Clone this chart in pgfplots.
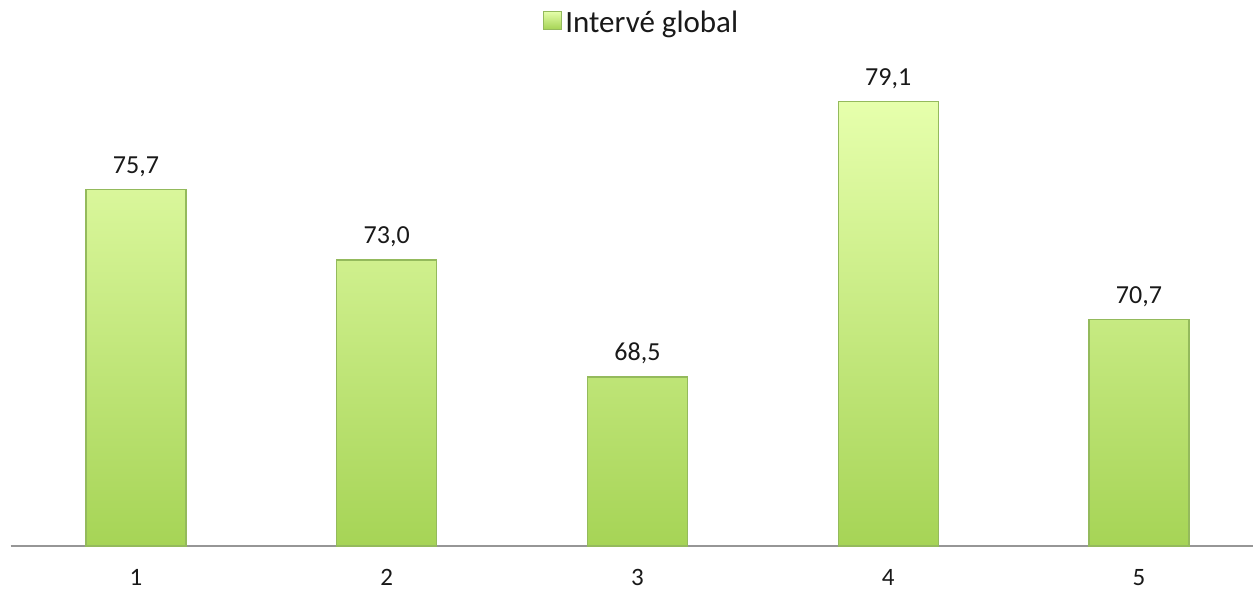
\documentclass[border=0pt]{standalone}
\usepackage{fontspec}
\setmainfont{Carlito}
\usepackage{pgfplots}
\pgfplotsset{compat=1.18}

\definecolor{bartop}{RGB}{230,255,172}
\definecolor{barmid}{RGB}{206,240,134}
\definecolor{barbot}{RGB}{166,212,86}
\definecolor{baredge}{RGB}{148,186,92}
\definecolor{axisgray}{RGB}{150,150,150}
\definecolor{labelgray}{RGB}{25,25,25}

\begin{document}
\begin{tikzpicture}
% fixed frame of the figure; the axis runs on past the right edge
\useasboundingbox (-5.3pt,-23.5pt) rectangle (621.2pt,273pt);
\begin{axis}[
  at={(0,0)}, anchor=south west,
  scale only axis,
  width=626.875pt, height=234pt,
  xmin=0.5, xmax=5.5,
  ymin=62, ymax=80,
  ybar, bar width=50pt,
  xtick={1,2,3,4,5},
  xticklabels={1,2,3,4,5},
  major tick length=0pt,
  ytick=\empty,
  axis x line*=bottom,
  axis y line=none,
  x axis line style={draw=axisgray, line width=0.9pt},
  tick label style={font=\fontsize{12.5}{14}\selectfont, text=labelgray},
  xticklabel style={anchor=base, inner sep=0pt, yshift=-20pt},
  nodes near coords,
  every node near coord/.append style={font=\fontsize{13}{15}\selectfont,
    text=labelgray, anchor=base, yshift=8pt},
  /pgf/number format/.cd, use comma, fixed, fixed zerofill, precision=1, assume math mode=true,
  /pgfplots/.cd,
  legend style={at={(0.504,1.1175)}, anchor=center, draw=none, fill=none,
    font=\fontsize{15.5}{17}\selectfont, text=labelgray,
    /tikz/every even column/.append style={column sep=1pt}},
  legend image code/.code={%
    \draw[draw=baredge, top color=bartop, bottom color=barbot, line width=0.3pt]
      (0pt,-3pt) rectangle (9pt,6pt);},
  clip=false,
]
\addplot[draw=baredge, line width=0.6pt,
  top color=bartop, middle color=barmid, bottom color=barbot]
  coordinates {(1,75.7) (2,73.0) (3,68.5) (4,79.1) (5,70.7)};
\addlegendentry{Intervé global}
\end{axis}
\end{tikzpicture}
\end{document}
